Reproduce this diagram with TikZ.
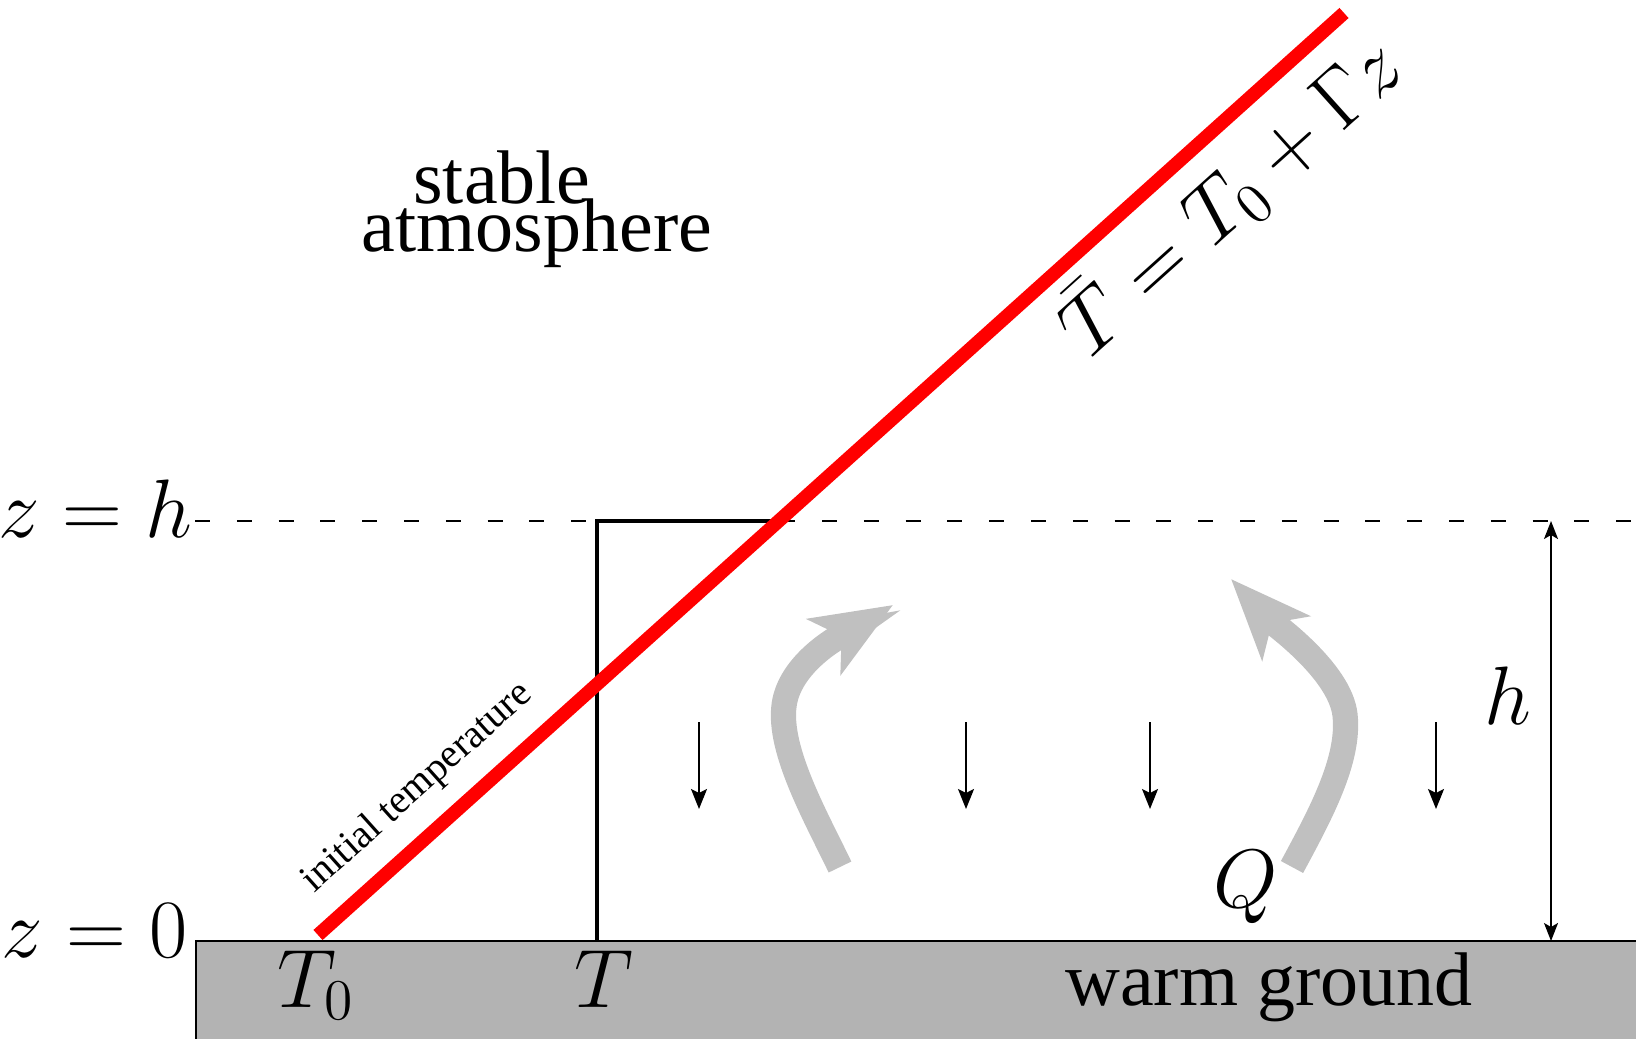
\documentclass[tikz,border=0pt]{standalone}
\usepackage{amsmath}
\usepackage{fontspec}
\setmainfont{Liberation Serif}
\usetikzlibrary{positioning,arrows.meta,calc}
\definecolor{tline}{RGB}{255,0,0}
\definecolor{groundgray}{RGB}{179,179,179}
\definecolor{plumegray}{RGB}{192,192,192}
\tikzset{
  mathlbl/.style = {inner sep=0pt, font=\fontsize{19.5}{23}\selectfont},
  textlbl/.style = {inner sep=0pt, font=\fontsize{19}{22}\selectfont},
  sink/.style    = {-{Stealth[length=5pt,width=4pt,inset=1pt]}, line width=0.4pt},
  dimline/.style = {{Stealth[length=4.5pt,width=3.5pt,inset=1pt]}-{Stealth[length=4.5pt,width=3.5pt,inset=1pt]}, line width=0.4pt},
  plume/.style   = {-{Stealth[length=20pt,width=16pt,inset=5pt]}, line width=6.3pt, draw=plumegray},
  profile/.style = {line width=3.4pt, draw=tline},
}

\begin{document}
\begin{tikzpicture}[x=0.25pt, y=-0.25pt]
  \useasboundingbox (0,0) rectangle (1636,1038);
  % ground
  \draw[fill=groundgray, line width=0.4pt] (196,941) rectangle (1660,1060);
  \node[textlbl, anchor=base] (warm) at (1269,1005) {warm ground};

  % levels
  \node[mathlbl, anchor=base east] (zh) at (193,537) {$z=h$};
  \node[mathlbl, anchor=base east] (z0) at (188,957) {$z=0$};
  \coordinate (lidL) at (195,521);
  \coordinate (lidR) at (1660,521);
  \draw[dashed, dash pattern=on 3.75pt off 6.7pt, line width=0.4pt] (lidL) -- (lidR);

  % mixed layer profile
  \coordinate (wall) at (597,941);
  \coordinate (cross) at (776,521);
  \draw[line width=0.8pt] (wall) |- (cross);

  % initial temperature
  \coordinate (base) at (318,935);
  \coordinate (tip) at (1344,13);
  \draw[profile] (base) --
    node[pos=0.125, sloped, above=4.5pt, inner sep=0pt, font=\fontsize{10}{12}\selectfont] (init) {initial temperature}
    node[pos=0.85, sloped, below=3.5pt, inner sep=0pt, font=\fontsize{19.5}{23}\selectfont] (law) {$\bar{T}=T_0+\Gamma z$}
    (tip);

  \node[textlbl, anchor=base] (stab) at (502,204) {stable};
  \node[textlbl, anchor=base] (atm) at (537,252) {atmosphere};

  \node[mathlbl, anchor=base] (t0) at (316,1007) {$T_0$};
  \node[mathlbl, anchor=base] (tp) at (604,1007) {$T$};

  % sinking air
  \foreach \x [count=\i] in {699,966,1150,1436} {
    \coordinate (s\i) at (\x,722);
    \coordinate (e\i) at (\x,809);
    \draw[sink] (s\i) -- (e\i);
  }

  % plumes
  \coordinate (plA) at (840,867);
  \coordinate (plB) at (893,605);
  \coordinate (prA) at (1292,867);
  \coordinate (prB) at (1231,579);
  \draw[plume] (plA) .. controls (815,815) and (775,745) .. (785,700)
    .. controls (795,655) and (855,628) .. (plB);
  \draw[plume] (prA) .. controls (1320,815) and (1350,760) .. (1345,715)
    .. controls (1340,670) and (1270,621) .. (prB);
  \node[mathlbl, anchor=base] (q) at (1246,907) {$Q$};

  % layer depth
  \coordinate (hTop) at (1551,521);
  \coordinate (hBot) at (1551,941);
  \draw[dimline] (hBot) -- (hTop);
  \node[mathlbl, anchor=base] (hl) at (1508,724) {$h$};
\end{tikzpicture}
\end{document}
